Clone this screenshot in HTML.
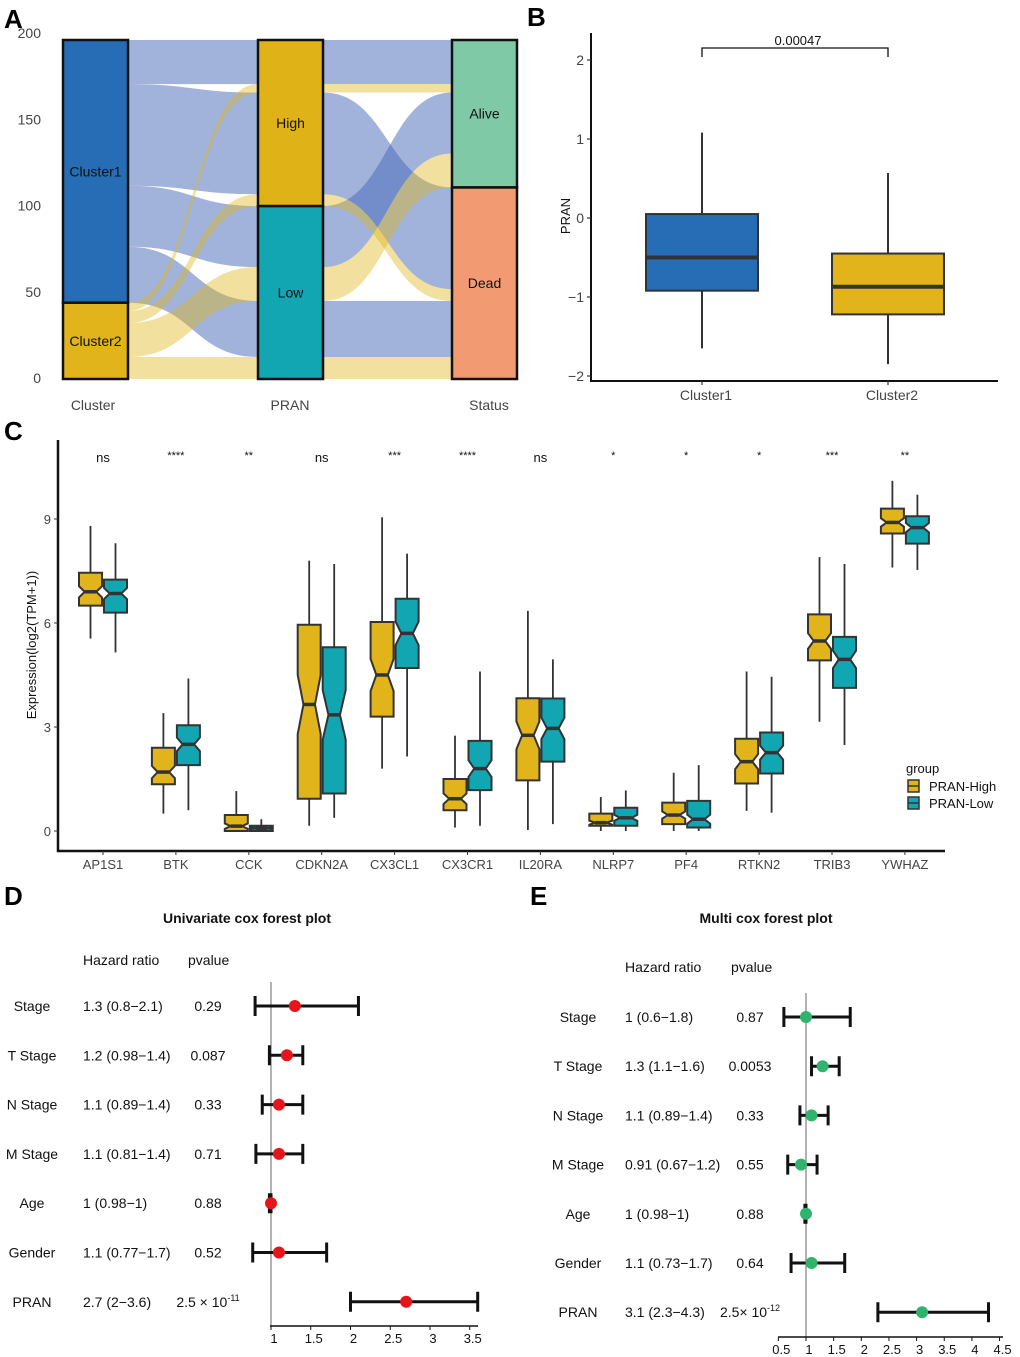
<!DOCTYPE html>
<html><head><meta charset="utf-8"><style>
html,body{margin:0;padding:0;background:#fff;}
svg{display:block;font-family:"Liberation Sans",Arial,sans-serif;}
</style></head><body>
<svg id="fig" width="1020" height="1357" viewBox="0 0 1020 1357" xmlns="http://www.w3.org/2000/svg">
<text x="4" y="28" font-size="26" font-weight="bold">A</text>
<text x="527" y="26" font-size="26" font-weight="bold">B</text>
<text x="4" y="440" font-size="26" font-weight="bold">C</text>
<text x="4" y="905" font-size="26" font-weight="bold">D</text>
<text x="530" y="905" font-size="26" font-weight="bold">E</text>
<g id="pa"></g>
<g id="pb"></g>
<g id="pc"></g>
<g id="pd"></g>
<g id="pe"></g>
</svg>
<script>
// ---------- Panel A data ----------
const alluviumCluster = [0,0,0,0,1,1,1,1];
const alluviumPran    = [0,0,1,1,0,0,1,1];
const alluviumStatus  = [0,1,0,1,0,1,0,1];
const alluviumCounts  = [26,60,36,33,5,7,20,13];
const clusterNames = ["Cluster1","Cluster2"];
const pranNames = ["High","Low"];
const statusNames = ["Alive","Dead"];
const alluvialTicks = [0,50,100,150,200];
// ---------- Panel B data ----------
const bGroups = ["Cluster1","Cluster2"];
const bWhiskLow = [-1.65,-1.85];
const bQ1 = [-0.92,-1.22];
const bMedian = [-0.5,-0.87];
const bQ3 = [0.05,-0.45];
const bWhiskHigh = [1.08,0.57];
const bTicks = [-2,-1,0,1,2];
// ---------- Panel C data ----------
const genes = ["AP1S1","BTK","CCK","CDKN2A","CX3CL1","CX3CR1","IL20RA","NLRP7","PF4","RTKN2","TRIB3","YWHAZ"];
const sigLabels = ["ns","****","**","ns","***","****","ns","*","*","*","***","**"];
const hiMin = [5.55,0.5,0,0.15,1.8,0.1,0.03,0,0,0.58,3.15,7.6];
const hiQ1  = [6.5,1.35,0,0.93,3.3,0.6,1.46,0.15,0.2,1.37,4.92,8.58];
const hiMed = [6.9,1.7,0.14,3.65,4.5,0.93,2.76,0.24,0.46,2.0,5.48,8.9];
const hiQ3  = [7.45,2.4,0.46,5.95,6.03,1.5,3.83,0.5,0.82,2.66,6.25,9.3];
const hiMax = [8.8,3.4,1.15,7.8,9.05,2.75,6.35,0.98,1.68,4.6,7.9,10.1];
const loMin = [5.15,0.6,0,0.38,2.15,0.15,0.2,0,0,0.53,2.48,7.53];
const loQ1  = [6.3,1.9,0,1.08,4.7,1.18,2.0,0.15,0.1,1.66,4.13,8.29];
const loMed = [6.85,2.5,0.08,3.35,5.7,1.8,2.96,0.38,0.34,2.26,4.95,8.75];
const loQ3  = [7.25,3.05,0.15,5.3,6.7,2.6,3.82,0.67,0.87,2.84,5.6,9.08];
const loMax = [8.3,4.4,0.34,7.7,8.0,4.6,4.95,1.17,1.9,4.45,7.7,9.7];
const cTicks = [0,3,6,9];
// ---------- Panel D data ----------
const dVars = ["Stage","T Stage","N Stage","M Stage","Age","Gender","PRAN"];
const dHR = [1.3,1.2,1.1,1.1,1.0,1.1,2.7];
const dLow = [0.8,0.98,0.89,0.81,0.98,0.77,2.0];
const dHigh = [2.1,1.4,1.4,1.4,1.0,1.7,3.6];
const dHRtext = ["1.3 (0.8−2.1)","1.2 (0.98−1.4)","1.1 (0.89−1.4)","1.1 (0.81−1.4)","1 (0.98−1)","1.1 (0.77−1.7)","2.7 (2−3.6)"];
const dPtext = ["0.29","0.087","0.33","0.71","0.88","0.52","2.5 × 10"];
const dTicks = [1,1.5,2,2.5,3,3.5];
// ---------- Panel E data ----------
const eVars = ["Stage","T Stage","N Stage","M Stage","Age","Gender","PRAN"];
const eHR = [1.0,1.3,1.1,0.91,1.0,1.1,3.1];
const eLow = [0.6,1.1,0.89,0.67,0.98,0.73,2.3];
const eHigh = [1.8,1.6,1.4,1.2,1.0,1.7,4.3];
const eHRtext = ["1 (0.6−1.8)","1.3 (1.1−1.6)","1.1 (0.89−1.4)","0.91 (0.67−1.2)","1 (0.98−1)","1.1 (0.73−1.7)","3.1 (2.3−4.3)"];
const ePtext = ["0.87","0.0053","0.33","0.55","0.88","0.64","2.5× 10"];
const eTicks = [0.5,1,1.5,2,2.5,3,3.5,4,4.5];

const NS="http://www.w3.org/2000/svg";
function mk(parent,tag,attrs,txt){const e=document.createElementNS(NS,tag);for(const k in attrs)e.setAttribute(k,attrs[k]);if(txt!==undefined)e.textContent=txt;parent.appendChild(e);return e;}

// ================= Panel A =================
(function(){
const g=document.getElementById('pa');
const yA=v=>379-v*1.695;
const barX=[63,258,452], barW=65;
const n=alluviumCounts.length;
const idx=[...Array(n).keys()];
const keys=[i=>[alluviumCluster[i],alluviumPran[i],alluviumStatus[i]],
            i=>[alluviumPran[i],alluviumStatus[i],alluviumCluster[i]],
            i=>[alluviumStatus[i],alluviumPran[i],alluviumCluster[i]]];
const pos=[];
for(let a=0;a<3;a++){
  const ord=idx.slice().sort((p,q)=>{const kp=keys[a](p),kq=keys[a](q);for(let j=0;j<3;j++){if(kp[j]!==kq[j])return kp[j]-kq[j];}return 0;});
  let top=200;const pp={};
  ord.forEach(i=>{pp[i]=[top,top-alluviumCounts[i]];top-=alluviumCounts[i];});
  pos.push(pp);
}
const flowCol=["#4368b8","#e0b418"], flowOp=[0.5,0.42];
for(let a=0;a<2;a++){
  idx.forEach(i=>{
    const x1=barX[a]+barW,x2=barX[a+1],xm=(x1+x2)/2;
    const t1=yA(pos[a][i][0]),b1=yA(pos[a][i][1]),t2=yA(pos[a+1][i][0]),b2=yA(pos[a+1][i][1]);
    const p=mk(g,'path',{d:`M${x1},${t1} C${xm},${t1} ${xm},${t2} ${x2},${t2} L${x2},${b2} C${xm},${b2} ${xm},${b1} ${x1},${b1} Z`,fill:flowCol[alluviumCluster[i]],'fill-opacity':flowOp[alluviumCluster[i]]});
    
    
  });
}
const strata=[[clusterNames,alluviumCluster,["#276db5","#e0b41a"]],[pranNames,alluviumPran,["#dfb317","#11a6b2"]],[statusNames,alluviumStatus,["#7fc9a6","#f29a72"]]];
strata.forEach((s,a)=>{
  let top=200;
  s[0].forEach((nm,k)=>{
    let tot=0;idx.forEach(i=>{if(s[1][i]===k)tot+=alluviumCounts[i];});
    const r=mk(g,'rect',{x:barX[a],y:yA(top),width:barW,height:tot*1.695,fill:s[2][k],stroke:'#111','stroke-width':2.5});
    
    
    const t=mk(g,'text',{x:barX[a]+barW/2,y:yA(top-tot/2)+5,'font-size':14,'text-anchor':'middle',fill:'#111'},nm);
    
    
    top-=tot;
  });
});
alluvialTicks.forEach(v=>{
  const t=mk(g,'text',{x:41,y:378-v*1.725+5,'font-size':14,'text-anchor':'end',fill:'#444'},String(v));
  
  
});
[["Cluster",93],["PRAN",290],["Status",489]].forEach(a=>{
  const t=mk(g,'text',{x:a[1],y:410,'font-size':14,'text-anchor':'middle',fill:'#444'},a[0]);
  
  
});
})();

// ================= Panel B =================
(function(){
const g=document.getElementById('pb');
const yB=v=>218-v*79;
const xc=[702,888],hw=56;
const ax=mk(g,'path',{d:'M591,33 L591,381 L998,381',fill:'none',stroke:'#111','stroke-width':2});


bTicks.forEach(v=>{
  mk(g,'line',{x1:587,x2:591,y1:yB(v),y2:yB(v),stroke:'#333','stroke-width':1.2});
  const t=mk(g,'text',{x:584,y:yB(v)+5,'font-size':14,'text-anchor':'end',fill:'#444'},v<0?'−'+Math.abs(v):String(v));
  
  
});
const cols=["#276db5","#e0b41a"];
bGroups.forEach((nm,i)=>{
  mk(g,'line',{x1:xc[i],x2:xc[i],y1:yB(bWhiskHigh[i]),y2:yB(bWhiskLow[i]),stroke:'#333','stroke-width':2});
  const r=mk(g,'rect',{x:xc[i]-hw,y:yB(bQ3[i]),width:2*hw,height:yB(bQ1[i])-yB(bQ3[i]),fill:cols[i],stroke:'#333','stroke-width':2});
  
  
  mk(g,'line',{x1:xc[i]-hw,x2:xc[i]+hw,y1:yB(bMedian[i]),y2:yB(bMedian[i]),stroke:'#333','stroke-width':4});
  mk(g,'line',{x1:xc[i],x2:xc[i],y1:381,y2:385,stroke:'#333','stroke-width':1.2});
  const t=mk(g,'text',{x:xc[i]+4,y:400,'font-size':14,'text-anchor':'middle',fill:'#444'},nm);
  
  
});
const br=mk(g,'path',{d:`M${xc[0]},57 L${xc[0]},48 L${xc[1]},48 L${xc[1]},57`,fill:'none',stroke:'#111','stroke-width':1.3});


const pt=mk(g,'text',{x:798,y:45,'font-size':13,'text-anchor':'middle',fill:'#111'},'0.00047');


const yt=mk(g,'text',{x:570,y:216,'font-size':13,'text-anchor':'middle',fill:'#111',transform:'rotate(-90 570 216)'},'PRAN');


})();

// ================= Panel C =================
(function(){
const g=document.getElementById('pc');
const yC=v=>831-v*34.67;
const xC=i=>103+i*72.9;
const ax=mk(g,'path',{d:'M58,440 L58,851 L945,851',fill:'none',stroke:'#111','stroke-width':2.5});


cTicks.forEach(v=>{
  mk(g,'line',{x1:54,x2:58,y1:yC(v),y2:yC(v),stroke:'#333','stroke-width':1});
  const t=mk(g,'text',{x:51,y:yC(v)+5,'font-size':13,'text-anchor':'end',fill:'#444'},String(v));
  
  
});
const yt=mk(g,'text',{x:36,y:645,'font-size':13,'text-anchor':'middle',fill:'#111',transform:'rotate(-90 36 645)'},'Expression(log2(TPM+1))');


function notchBox(cx,mn,q1,md,q3,mx,col,name){
  const hw=11.5, nh=Math.min(0.17*(q3-q1),md-q1,q3-md), nw=hw*0.5;
  mk(g,'line',{x1:cx,x2:cx,y1:yC(mx),y2:yC(mn),stroke:'#333','stroke-width':1.8});
  const d=`M${cx-hw},${yC(q3)} L${cx+hw},${yC(q3)} L${cx+hw},${yC(md+nh)} L${cx+nw},${yC(md)} L${cx+hw},${yC(md-nh)} L${cx+hw},${yC(q1)} L${cx-hw},${yC(q1)} L${cx-hw},${yC(md-nh)} L${cx-nw},${yC(md)} L${cx-hw},${yC(md+nh)} Z`;
  const p=mk(g,'path',{d:d,fill:col,stroke:'#333','stroke-width':2});
  
  
  mk(g,'line',{x1:cx-nw,x2:cx+nw,y1:yC(md),y2:yC(md),stroke:'#333','stroke-width':3.5});
}
genes.forEach((gn,i)=>{
  const c=xC(i);
  notchBox(c-12.5,hiMin[i],hiQ1[i],hiMed[i],hiQ3[i],hiMax[i],'#e0b41a','box-high-'+gn.toLowerCase());
  notchBox(c+12.5,loMin[i],loQ1[i],loMed[i],loQ3[i],loMax[i],'#11a6b2','box-low-'+gn.toLowerCase());
  mk(g,'line',{x1:c,x2:c,y1:851,y2:855,stroke:'#333','stroke-width':1});
  const t=mk(g,'text',{x:c,y:869,'font-size':13,'text-anchor':'middle',fill:'#444'},gn);
  
  
  const ns=sigLabels[i]==='ns';
  const s=mk(g,'text',{x:c,y:ns?462:459,'font-size':ns?13:11,'text-anchor':'middle',fill:'#111'},sigLabels[i]);
  
  
});
const lt=mk(g,'text',{x:906,y:773,'font-size':13,fill:'#111'},'group');


[["PRAN-High","#e0b41a",786],["PRAN-Low","#11a6b2",803]].forEach(l=>{
  const r=mk(g,'rect',{x:908,y:l[2]-6,width:11,height:12,fill:l[1],stroke:'#333','stroke-width':1.5});
  
  
  mk(g,'line',{x1:908,x2:919,y1:l[2],y2:l[2],stroke:'#333','stroke-width':1.5});
  const t=mk(g,'text',{x:929,y:l[2]+5,'font-size':13,fill:'#111'},l[0]);
  
  
});
})();

// ================= Forest plots =================
function forest(gid,title,titleX,hdrY,hdrHR,hdrP,rowY0,rowStep,labX,hrX,pX,vars,hr,lo,hi,hrt,pt,ticks,x1,scale,axY,axX0,axX1,refTop,col,exps){
  const g=document.getElementById(gid);
  const xF=v=>x1+(v-1)*scale;
  const tt=mk(g,'text',{x:titleX,y:923,'font-size':14,'font-weight':'bold','text-anchor':'middle',fill:'#111'},title);
  
  
  const h1=mk(g,'text',{x:hdrHR,y:hdrY,'font-size':14,fill:'#111'},'Hazard ratio');
  
  
  const h2=mk(g,'text',{x:hdrP,y:hdrY,'font-size':14,fill:'#111'},'pvalue');
  
  
  const rl=mk(g,'line',{x1:xF(1),x2:xF(1),y1:refTop,y2:axY,stroke:'#888','stroke-width':1.3});
  
  
  const ax=mk(g,'line',{x1:axX0,x2:axX1,y1:axY,y2:axY,stroke:'#111','stroke-width':1.5});
  
  
  ticks.forEach(v=>{
    mk(g,'line',{x1:xF(v),x2:xF(v),y1:axY,y2:axY+4,stroke:'#111','stroke-width':1});
    const t=mk(g,'text',{x:xF(v)+3,y:axY+17,'font-size':13,'text-anchor':'middle',fill:'#111'},String(v));
    
    
  });
  vars.forEach((nm,i)=>{
    const y=rowY0+i*rowStep;
    const a=mk(g,'text',{x:labX,y:y+5,'font-size':14,'text-anchor':'middle',fill:'#111'},nm);
    
    
    const b=mk(g,'text',{x:hrX,y:y+5,'font-size':14,fill:'#111'},hrt[i]);
    
    
    const c=mk(g,'text',{x:pX,y:y+5,'font-size':14,'text-anchor':'middle',fill:'#111'},pt[i]);
    
    
    if(i===vars.length-1){
      const s=mk(g,'tspan',{dy:-6,'font-size':9},exps);
      c.appendChild(s);
    }
    const ci=mk(g,'path',{d:`M${xF(lo[i])},${y-10} L${xF(lo[i])},${y+10} M${xF(lo[i])},${y} L${xF(hi[i])},${y} M${xF(hi[i])},${y-10} L${xF(hi[i])},${y+10}`,fill:'none',stroke:'#111','stroke-width':3});
    
    
    const p=mk(g,'circle',{cx:xF(hr[i]),cy:y,r:6,fill:col});
    
    
  });
}
forest('pd','Univariate cox forest plot',247,965,83,188,1006,49.3,32,83,208,dVars,dHR,dLow,dHigh,dHRtext,dPtext,dTicks,271,79.5,1326,270,478,982,'#e8141c','-11');
forest('pe','Multi cox forest plot',766,972,625,731,1017,49.2,578,625,750,eVars,eHR,eLow,eHigh,eHRtext,ePtext,eTicks,806,55.3,1337,778,1003,993,'#2fb36d','-12');
</script>
</body></html>
